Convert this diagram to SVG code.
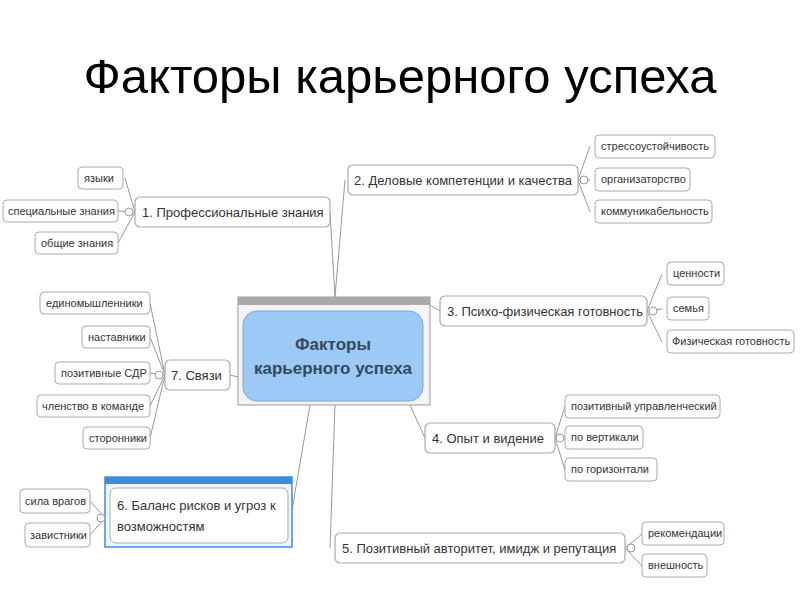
<svg xmlns="http://www.w3.org/2000/svg" width="800" height="600" viewBox="0 0 800 600">
<style>
text{font-family:"Liberation Sans",Arial,sans-serif;fill:#333}
.n rect{fill:#fff;stroke:#aaa;stroke-width:1.2}
.n text{font-size:13px}
.c rect{fill:#fff;stroke:#aaa;stroke-width:1}
.c text{font-size:11px}
#links path{fill:none;stroke:#999;stroke-width:1}
.k{fill:#fff;stroke:#999}
</style>
<rect width="800" height="600" fill="#fff"/>
<text x="400" y="93" font-size="49" text-anchor="middle" style="fill:#000">Факторы карьерного успеха</text>
<g id="links">
<path d="M335 297 L345 180 M335 297 L330 212 M430 305 L440 311 M238 377 L230 375 M410 405 L425 438 M335 405 L330 548 M310 405 L292 510"/>
<path d="M578 180 L590 146 M578 180 L590 180 M578 180 L590 212"/>
<path d="M135 212 L125 178 M135 212 L118 211 M135 212 L118 243"/>
<path d="M647 311 L662 274 M647 311 L662 309 M647 311 L662 342"/>
<path d="M165 375 L150 303 M165 375 L150 337 M165 375 L150 373 M165 375 L150 406 M165 375 L150 438"/>
<path d="M555 438 L565 406 M555 438 L565 438 M555 438 L565 470"/>
<path d="M105 518 L90 501 M105 518 L90 535"/>
<path d="M625 548 L642 534 M625 548 L642 566"/>
</g>
<g id="center">
<rect x="238" y="297" width="192" height="108" fill="#f4f4f4" stroke="#999"/>
<rect x="238" y="297" width="192" height="8" fill="#aaa"/>
<rect x="243" y="311" width="180" height="90" rx="14" fill="#9cc9f5" stroke="#7aa9d8"/>
<text x="333" y="350" font-size="17" font-weight="bold" text-anchor="middle" style="fill:#34495e">Факторы</text>
<text x="333" y="374" font-size="17" font-weight="bold" text-anchor="middle" style="fill:#34495e">карьерного успеха</text>
</g>
<g id="n1" class="n"><rect x="135" y="197" width="195" height="30" rx="5"/><text x="142" y="217">1. Профессиональные знания</text><circle class="k" cx="129" cy="212" r="4"/></g>
<g id="n1a" class="c"><rect x="78" y="167" width="45" height="22" rx="4"/><text x="84" y="182">языки</text></g>
<g id="n1b" class="c"><rect x="3" y="200" width="115" height="22" rx="4"/><text x="8" y="215">специальные знания</text></g>
<g id="n1c" class="c"><rect x="35" y="232" width="83" height="22" rx="4"/><text x="41" y="247">общие знания</text></g>
<g id="n2" class="n"><rect x="348" y="165" width="230" height="30" rx="5"/><text x="354" y="185">2. Деловые компетенции и качества</text><circle class="k" cx="584" cy="180" r="4"/></g>
<g id="n2a" class="c"><rect x="595" y="135" width="120" height="23" rx="4"/><text x="601" y="150">стрессоустойчивость</text></g>
<g id="n2b" class="c"><rect x="595" y="168" width="95" height="23" rx="4"/><text x="601" y="183">организаторство</text></g>
<g id="n2c" class="c"><rect x="595" y="200" width="117" height="23" rx="4"/><text x="601" y="215">коммуникабельность</text></g>
<g id="n3" class="n"><rect x="440" y="296" width="207" height="30" rx="5"/><text x="447" y="316">3. Психо-физическая готовность</text><circle class="k" cx="653" cy="311" r="4"/></g>
<g id="n3a" class="c"><rect x="667" y="262" width="57" height="23" rx="4"/><text x="673" y="277">ценности</text></g>
<g id="n3b" class="c"><rect x="667" y="297" width="42" height="23" rx="4"/><text x="673" y="312">семья</text></g>
<g id="n3c" class="c"><rect x="667" y="330" width="127" height="23" rx="4"/><text x="672" y="345">Физическая готовность</text></g>
<g id="n7" class="n"><rect x="165" y="360" width="65" height="30" rx="5"/><text x="171" y="380">7. Связи</text><circle class="k" cx="159" cy="375" r="4"/></g>
<g id="n7a" class="c"><rect x="40" y="292" width="110" height="22" rx="4"/><text x="46" y="307">единомышленники</text></g>
<g id="n7b" class="c"><rect x="82" y="326" width="68" height="22" rx="4"/><text x="88" y="341">наставники</text></g>
<g id="n7c" class="c"><rect x="55" y="362" width="95" height="22" rx="4"/><text x="61" y="377">позитивные СДР</text></g>
<g id="n7d" class="c"><rect x="37" y="395" width="113" height="22" rx="4"/><text x="42" y="410">членство в команде</text></g>
<g id="n7e" class="c"><rect x="83" y="427" width="67" height="22" rx="4"/><text x="89" y="442">сторонники</text></g>
<g id="n4" class="n"><rect x="425" y="423" width="130" height="30" rx="5"/><text x="432" y="443">4. Опыт и видение</text><circle class="k" cx="560" cy="438" r="4"/></g>
<g id="n4a" class="c"><rect x="565" y="395" width="155" height="23" rx="4"/><text x="571" y="410">позитивный управленческий</text></g>
<g id="n4b" class="c"><rect x="565" y="426" width="78" height="23" rx="4"/><text x="571" y="441">по вертикали</text></g>
<g id="n4c" class="c"><rect x="565" y="458" width="92" height="23" rx="4"/><text x="571" y="473">по горизонтали</text></g>
<g id="n6">
<rect x="105" y="477" width="187" height="70" fill="#eef5fd" stroke="#3b8de0" stroke-width="1.5"/>
<rect x="105" y="477" width="187" height="7" fill="#3b8de0"/>
<rect x="110" y="488" width="178" height="55" rx="6" fill="#fff" stroke="#aaa"/>
<text x="117" y="510" font-size="13">6. Баланс рисков и угроз к</text>
<text x="117" y="531" font-size="13">возможностям</text>
<circle class="k" cx="101" cy="518" r="4"/>
</g>
<g id="n6a" class="c"><rect x="20" y="489" width="70" height="24" rx="4"/><text x="25" y="505">сила врагов</text></g>
<g id="n6b" class="c"><rect x="25" y="523" width="65" height="24" rx="4"/><text x="30" y="539">завистники</text></g>
<g id="n5" class="n"><rect x="335" y="533" width="290" height="30" rx="5"/><text x="342" y="553">5. Позитивный авторитет, имидж и репутация</text><circle class="k" cx="631" cy="548" r="4"/></g>
<g id="n5a" class="c"><rect x="642" y="522" width="82" height="23" rx="4"/><text x="648" y="537">рекомендации</text></g>
<g id="n5b" class="c"><rect x="642" y="554" width="65" height="23" rx="4"/><text x="648" y="569">внешность</text></g>
</svg>
